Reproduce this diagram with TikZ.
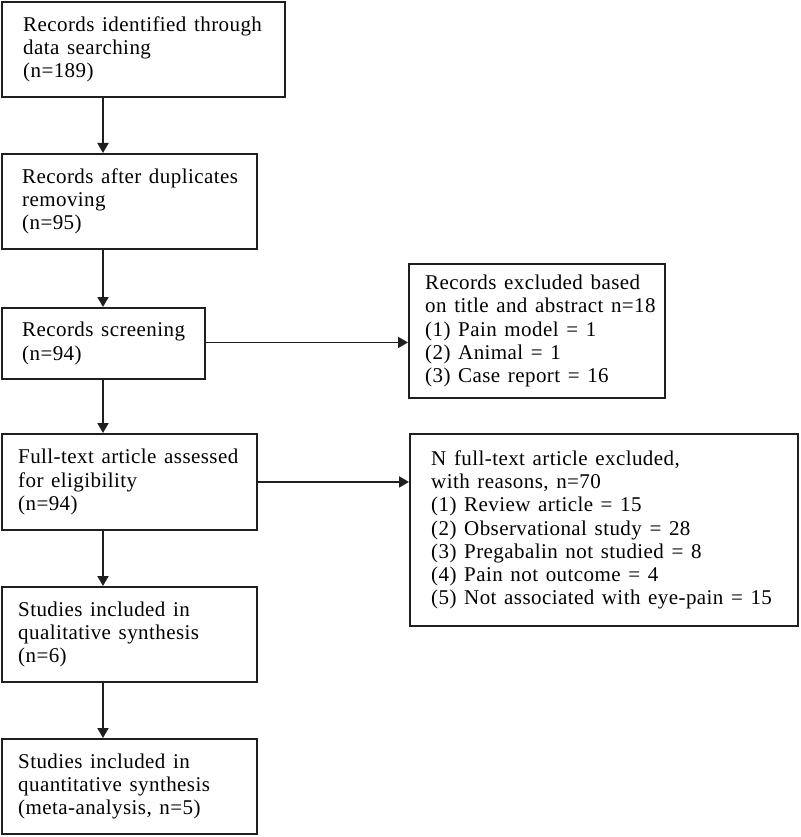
\documentclass[tikz,border=0pt]{standalone}
\usepackage{fontspec}
\setmainfont[LetterSpace=2,WordSpace=1.35]{Liberation Serif}
\usetikzlibrary{arrows.meta,positioning}
\begin{document}
\begin{tikzpicture}[x=1pt,y=-1pt,
  boxshape/.style={draw=black!88,line width=1.9pt,rectangle,inner sep=0pt,anchor=north west},
  txt/.style={anchor=west,align=left,inner sep=0pt,font=\fontsize{21}{23.2}\selectfont,text=black},
  arr/.style={draw=black!88,line width=1.9pt,-{Triangle[length=10pt,width=11pt]}}]
\useasboundingbox (0,0) rectangle (800,837);
% left column
\node[boxshape,minimum width=283pt,minimum height=95pt] (b1) at (1,1) {};
\node[boxshape,minimum width=255pt,minimum height=95pt] (b2) at (1,153) {};
\node[boxshape,minimum width=203pt,minimum height=71pt] (b3) at (1,307) {};
\node[boxshape,minimum width=255pt,minimum height=96pt] (b4) at (1,433) {};
\node[boxshape,minimum width=255pt,minimum height=95pt] (b5) at (1,586) {};
\node[boxshape,minimum width=255pt,minimum height=95pt] (b6) at (1,738) {};
% right column
\node[boxshape,minimum width=256pt,minimum height=134pt] (b7) at (408,263) {};
\node[boxshape,minimum width=388pt,minimum height=192pt] (b8) at (409,433) {};
% texts
\node[txt] (t1) at ([xshift=22pt]b1.west) {Records identified through\\data searching\\(n=189)};
\node[txt] (t2) at ([xshift=21pt]b2.west) {Records after duplicates\\removing\\(n=95)};
\node[txt] (t3) at ([xshift=21pt]b3.west) {Records screening\\(n=94)};
\node[txt] (t4) at ([xshift=17pt]b4.west) {Full-text article assessed\\for eligibility\\(n=94)};
\node[txt] (t5) at ([xshift=17pt]b5.west) {Studies included in\\qualitative synthesis\\(n=6)};
\node[txt] (t6) at ([xshift=17pt]b6.west) {Studies included in\\quantitative synthesis\\(meta-analysis, n=5)};
\node[txt] (t7) at ([xshift=17pt]b7.west) {Records excluded based\\on title and abstract n=18\\(1) Pain model = 1\\(2) Animal = 1\\(3) Case report = 16};
\node[txt] (t8) at ([xshift=22pt]b8.west) {N full-text article excluded,\\with reasons, n=70\\(1) Review article = 15\\(2) Observational study = 28\\(3) Pregabalin not studied = 8\\(4) Pain not outcome = 4\\(5) Not associated with eye-pain = 15};
% arrows
\foreach \a/\b in {b1/b2,b2/b3,b3/b4,b4/b5,b5/b6}
  \draw[arr] ([xshift=102pt]\a.south west) -- ([xshift=102pt]\b.north west);
\draw[arr] ([yshift=1pt]b3.east) -- ([yshift=1pt]b3.east -| b7.west);
\draw[arr] (b4.east) -- (b4.east -| b8.west);
\end{tikzpicture}
\end{document}
